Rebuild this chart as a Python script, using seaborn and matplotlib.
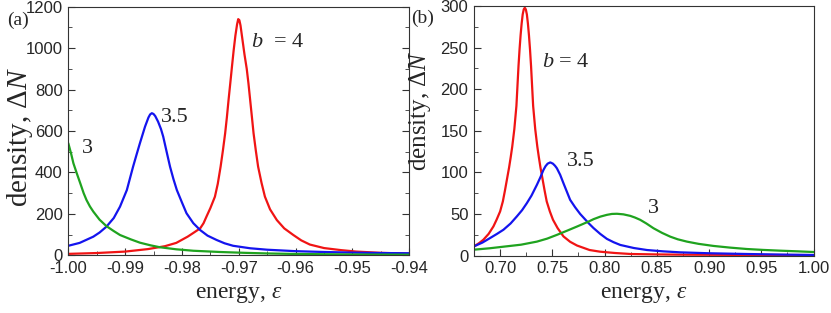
import numpy as np
import pandas as pd
import matplotlib
matplotlib.use("Agg")
import matplotlib.pyplot as plt
from matplotlib.ticker import MultipleLocator, FormatStrFormatter
import seaborn as sns

# panel (a): energy near -1, three b values
a_e_b4 = [-1.000, -0.995, -0.990, -0.986, -0.983, -0.981, -0.980, -0.979, -0.978, -0.9768,
          -0.9762, -0.9757, -0.9750, -0.9742, -0.9737, -0.9732, -0.9728, -0.9724, -0.9721,
          -0.9718, -0.9715, -0.9712, -0.9709, -0.9706, -0.9703, -0.9701, -0.9699, -0.9697,
          -0.9694, -0.9690, -0.9686, -0.9683, -0.9680, -0.9677, -0.9674, -0.9670, -0.9666,
          -0.9660, -0.9654, -0.9645, -0.9633, -0.9620, -0.9604, -0.9590, -0.9575, -0.955,
          -0.952, -0.9493, -0.945, -0.940]
a_n_b4 = [7, 11, 18, 30, 44, 60, 75, 90, 108, 130,
          155, 186, 228, 283, 345, 428, 505, 589, 665,
          750, 830, 911, 990, 1060, 1115, 1140, 1135, 1110,
          1050, 970, 900, 830, 750, 670, 589, 505, 428,
          350, 283, 222, 170, 130, 98, 72, 52, 35,
          25, 18, 12, 8]

a_e_b35 = [-1.000, -0.998, -0.9956, -0.9945, -0.9933, -0.992, -0.9909, -0.9897, -0.9886,
           -0.988, -0.9874, -0.9865, -0.9859, -0.9856, -0.9853, -0.9850, -0.9847, -0.9842,
           -0.9837, -0.9833, -0.9827, -0.9821, -0.9815, -0.9809, -0.9800, -0.9792, -0.978,
           -0.9768, -0.9755, -0.9739, -0.9725, -0.9710, -0.968, -0.965, -0.960, -0.955,
           -0.950, -0.945, -0.940]
a_n_b35 = [46, 60, 90, 110, 138, 180, 235, 315, 428,
           485, 541, 621, 665, 680, 686, 682, 672, 645,
           610, 573, 500, 428, 368, 315, 255, 203, 155,
           122, 95, 74, 58, 46, 34, 27, 20, 16,
           13, 11, 10]

a_e_b3 = [-1.000, -0.9995, -0.9991, -0.9985, -0.9979, -0.9973, -0.9968, -0.9962, -0.9956,
          -0.9945, -0.9933, -0.992, -0.9909, -0.989, -0.9874, -0.9855, -0.9839, -0.981,
          -0.978, -0.9733, -0.969, -0.965, -0.960, -0.950, -0.940]
a_n_b3 = [541, 490, 444, 395, 348, 300, 267, 236, 211,
          172, 141, 117, 98, 77, 61, 48, 39, 29,
          22, 16, 12, 9, 6.5, 4, 3]

# panel (b): energy 0.675 .. 1.0
b_e_b4 = [0.675, 0.680, 0.684, 0.689, 0.6936, 0.6966, 0.700, 0.7026, 0.7046, 0.7066,
          0.7086, 0.7101, 0.7116, 0.7136, 0.7156, 0.7166, 0.7176, 0.7186, 0.7196, 0.7206,
          0.7216, 0.7226, 0.7236, 0.7246, 0.7256, 0.7266, 0.7276, 0.7286, 0.7296, 0.7306,
          0.7316, 0.7336, 0.7356, 0.7371, 0.7386, 0.7406, 0.7426, 0.7446, 0.7476, 0.7506,
          0.755, 0.7606, 0.767, 0.7736, 0.7856, 0.7956, 0.81, 0.825, 0.85, 0.875,
          0.93, 1.0]
b_n_b4 = [11, 15, 19, 26, 35, 43, 53, 65, 78, 92,
          106, 118, 131, 152, 180, 204, 228, 248, 265, 279,
          290, 296, 298, 296, 290, 279, 265, 248, 228, 204,
          180, 152, 131, 118, 106, 92, 78, 65, 53, 43,
          33, 23, 16.5, 12, 6.6, 4.6, 3, 1.8, 1.3, 1.0,
          0.7, 0.5]

b_e_b35 = [0.675, 0.683, 0.6904, 0.697, 0.7032, 0.710, 0.716, 0.721, 0.7256, 0.730,
           0.7352, 0.7385, 0.7415, 0.7435, 0.7455, 0.748, 0.7505, 0.7525, 0.7543, 0.7575,
           0.7606, 0.7638, 0.767, 0.7718, 0.7766, 0.7846, 0.7894, 0.7958, 0.8022, 0.8086,
           0.815, 0.828, 0.8405, 0.856, 0.8724, 0.90, 0.9363, 0.97, 1.0]
b_n_b35 = [11, 15.5, 21, 26, 31, 38.5, 47, 54.5, 63, 72,
           85, 94, 103, 107.5, 110.5, 112, 110.5, 108, 105, 97,
           87, 77, 67, 58, 50, 39, 33, 26, 20, 16,
           12.7, 9, 6.6, 5, 3.8, 2.7, 1.8, 1.1, 0.6]

b_e_b3 = [0.675, 0.69, 0.7032, 0.72, 0.7352, 0.745, 0.7543, 0.764, 0.7735, 0.7846,
          0.7894, 0.796, 0.8022, 0.807, 0.8118, 0.818, 0.8245, 0.829, 0.8341, 0.840,
          0.8468, 0.855, 0.8628, 0.870, 0.8788, 0.890, 0.9043, 0.92, 0.9363, 0.952,
          0.9682, 0.985, 1.0]
b_n_b3 = [7, 8.7, 10.6, 13, 16.7, 20.3, 24.8, 29.8, 34.8, 40.8,
          43.7, 46.8, 48.9, 50, 50.2, 49.5, 47.7, 45.7, 42.9, 38.5,
          32.8, 27.2, 22.7, 19.5, 16.7, 14, 11.5, 9.5, 7.8, 6.7,
          5.8, 5, 4.2]

red, blue, green = "#f01414", "#1414ee", "#1fa31f"

sns.set_style("ticks")
plt.rcParams["font.family"] = ["Liberation Sans", "DejaVu Sans"]
plt.rcParams["mathtext.fontset"] = "custom"
plt.rcParams["mathtext.rm"] = "Liberation Serif"
plt.rcParams["mathtext.it"] = "Liberation Serif:italic"
plt.rcParams["axes.edgecolor"] = "#333333"
plt.rcParams["axes.linewidth"] = 0.8

fig = plt.figure(figsize=(8.31, 3.13), dpi=100)
ax_a = fig.add_axes([0.0822, 0.1843, 0.4103, 0.7943])
ax_b = fig.add_axes([0.5704, 0.1837, 0.4086, 0.7968])

serif = "Liberation Serif"

for x, y, c in [(a_e_b4, a_n_b4, red), (a_e_b35, a_n_b35, blue), (a_e_b3, a_n_b3, green)]:
    sns.lineplot(x=x, y=y, color=c, lw=1.6, ax=ax_a, sort=False)
for x, y, c in [(b_e_b4, b_n_b4, red), (b_e_b35, b_n_b35, blue), (b_e_b3, b_n_b3, green)]:
    sns.lineplot(x=x, y=y, color=c, lw=1.6, ax=ax_b, sort=False)

ax_a.set_xlim(-1.0, -0.94)
ax_a.set_ylim(0, 1200)
ax_a.xaxis.set_major_locator(MultipleLocator(0.01))
ax_a.xaxis.set_minor_locator(MultipleLocator(0.005))
ax_a.xaxis.set_major_formatter(FormatStrFormatter("%.2f"))
ax_a.yaxis.set_major_locator(MultipleLocator(200))
ax_a.yaxis.set_minor_locator(MultipleLocator(100))

ax_b.set_xlim(0.675, 1.0)
ax_b.set_ylim(0, 300)
ax_b.xaxis.set_major_locator(MultipleLocator(0.05))
ax_b.xaxis.set_minor_locator(MultipleLocator(0.025))
ax_b.xaxis.set_major_formatter(FormatStrFormatter("%.2f"))
ax_b.yaxis.set_major_locator(MultipleLocator(50))
ax_b.yaxis.set_minor_locator(MultipleLocator(25))

for ax in (ax_a, ax_b):
    ax.tick_params(which="both", direction="in", labelsize=12, color="#333333", top=False)
    ax.tick_params(which="major", length=5, width=0.8, pad=4)
    ax.tick_params(which="minor", length=3, width=0.6)
    ax.set_xlabel(r"energy, $\varepsilon$", fontsize=17, family=serif)
    ax.xaxis.set_label_coords(0.5, -0.115)
    for sp in ax.spines.values():
        sp.set_visible(True)
ax_a.tick_params(which="both", right=True)

ax_a.set_ylabel(r"density, $\Delta N$", fontsize=21, family=serif)
ax_a.yaxis.set_label_coords(-0.098, 0.475)
ax_b.set_ylabel(r"density, $\Delta N$", fontsize=18, family=serif)
ax_b.yaxis.set_label_coords(-0.121, 0.58)

ax_a.text(-0.9631, 1025, r"$b$  = 4", fontsize=16, family=serif, ha="center", va="center")
ax_a.text(-0.9812, 665, "3.5", fontsize=16, family=serif, ha="center", va="center")
ax_a.text(-0.99666, 517, "3", fontsize=16, family=serif, ha="center", va="center")
ax_b.text(0.7632, 232, r"$b$ = 4", fontsize=16, family=serif, ha="center", va="center")
ax_b.text(0.7776, 113, "3.5", fontsize=16, family=serif, ha="center", va="center")
ax_b.text(0.8466, 57, "3", fontsize=16, family=serif, ha="center", va="center")

fig.text(0.0217, 0.936, "(a)", fontsize=14, family=serif, ha="center", va="center")
fig.text(0.508, 0.942, "(b)", fontsize=14, family=serif, ha="center", va="center")

fig.savefig("out.png", dpi=100)
